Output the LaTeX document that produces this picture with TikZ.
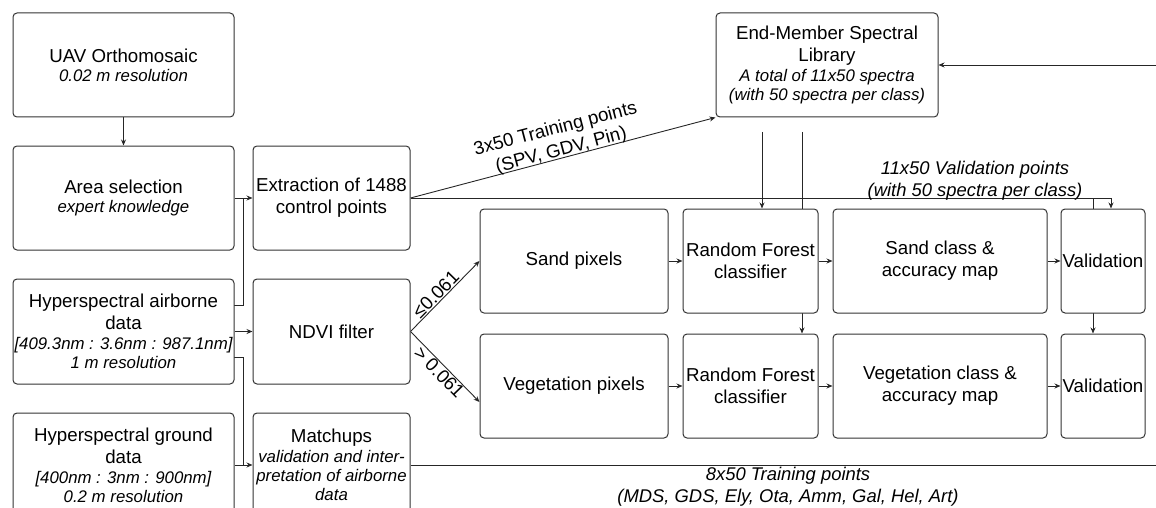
\documentclass[tikz,border=0pt]{standalone}
\usepackage{fontspec}
\setmainfont{Liberation Sans}
\usetikzlibrary{arrows.meta,calc}
\pgfdeclarelayer{bg}
\pgfsetlayers{bg,main}
\newcommand\mainsz{\fontsize{18.7}{22}\selectfont}
\newcommand\itsz{\fontsize{16.8}{20}\selectfont\itshape}
\newcommand\itmain{\fontsize{18.4}{22}\selectfont\itshape}
\begin{document}
\begin{tikzpicture}[x=1pt,y=-1pt,
  box/.style={draw=black!80, fill=white, rounded corners=4pt, line width=1pt, inner sep=0pt, align=center, font=\mainsz},
  arr/.style={-{Stealth[length=6pt,width=5pt]}, line width=0.9pt, draw=black!85},
  ln/.style={line width=0.9pt, draw=black!85},
  lab/.style={align=center, font=\mainsz, inner sep=1pt}]
\useasboundingbox (0,0) rectangle (1156,508);
\clip (0,0) rectangle (1156,508);
% nodes
\node[box, minimum width=221pt, minimum height=104pt] (uav) at (123.5,65) {UAV Orthomosaic\\[-3pt]{\itsz 0.02 m resolution}};
\node[box, minimum width=221pt, minimum height=104pt] (area) at (123.5,198) {Area selection\\[-3pt]{\itsz expert knowledge}};
\node[box, minimum width=157pt, minimum height=104pt] (extr) at (331.5,198) {Extraction of 1488\\control points};
\node[box, minimum width=221pt, minimum height=105pt] (air) at (123.5,331.5) {Hyperspectral airborne\\data\\[-2pt]{\itsz [409.3nm : 3.6nm : 987.1nm]}\\[-3pt]{\itsz 1 m resolution}};
\node[box, minimum width=157pt, minimum height=105pt] (ndvi) at (331.5,331.5) {NDVI filter};
\node[box, minimum width=221pt, minimum height=104pt] (ground) at (123.5,465) {Hyperspectral ground\\data\\[-2pt]{\itsz [400nm : 3nm : 900nm]}\\[-3pt]{\itsz 0.2 m resolution}};
\node[box, minimum width=157pt, minimum height=104pt] (match) at (331.5,465) {Matchups\\[-2pt]{\itsz validation and inter-}\\[-3pt]{\itsz pretation of airborne}\\[-3pt]{\itsz data}};
\node[box, minimum width=222pt, minimum height=104pt] (eml) at (827,65) {End-Member Spectral\\Library\\[-2pt]{\itsz A total of 11x50 spectra}\\[-3pt]{\itsz (with 50 spectra per class)}};
\node[box, minimum width=188pt, minimum height=104pt] (sand) at (574,261) {Sand pixels};
\node[box, minimum width=135pt, minimum height=104pt] (rf1) at (750.5,261) {Random Forest\\classifier};
\node[box, minimum width=214pt, minimum height=104pt] (sandc) at (940,261) {Sand class \&\\accuracy map};
\node[box, minimum width=84pt, minimum height=104pt] (val1) at (1103,261) {Validation};
\node[box, minimum width=188pt, minimum height=104pt] (veg) at (574,386) {Vegetation pixels};
\node[box, minimum width=135pt, minimum height=104pt] (rf2) at (750.5,386) {Random Forest\\classifier};
\node[box, minimum width=214pt, minimum height=104pt] (vegc) at (940,386) {Vegetation class \&\\accuracy map};
\node[box, minimum width=84pt, minimum height=104pt] (val2) at (1103,386) {Validation};
% helper coordinates
\coordinate (a1) at (234,305);
\coordinate (ja) at (243,198);
\coordinate (a2) at (234,357);
\coordinate (jm) at (243,465);
\coordinate (v1) at (1111,198);
\coordinate (v2) at (1093,198);
\coordinate (e1) at (762,132);
\coordinate (e2) at (802,132);
\coordinate (r1) at (1175,465);
\coordinate (r2) at (1175,65);
\node[lab, font=\itmain] (vlab) at (975,181) {11x50 Validation points\\(with 50 spectra per class)};
\node[lab, font=\itmain] (tlab) at (788,487) {8x50 Training points\\(MDS, GDS, Ely, Ota, Amm, Gal, Hel, Art)};
\begin{pgfonlayer}{bg}
\begin{scope}
\clip (0,0) rectangle (1156,508);
\draw[arr] (uav) -- (area);
\draw[arr] (area) -- (extr);
\draw[ln] (a1) -| (ja);
\draw[arr] (air) -- (ndvi);
\draw[ln] (a2) -| (jm);
\draw[arr] (ground) -- (match);
\draw[arr] (extr.east) -- (eml.south west) node[midway, above, sloped, lab, yshift=-3pt] {3x50 Training points\\(SPV, GDV, Pin)};
\draw[arr] (extr.east) -| (val1.north -| v1);
\draw[arr] (extr.east) -| (val2.north -| v2);
\draw[arr] (e1) -- (rf1.north -| e1);
\draw[arr] (e2) -- (rf2.north -| e2);
\draw[arr] (ndvi.east) -- (sand.west) node[pos=0.45, above, sloped, lab] {≤0.061};
\draw[arr] (ndvi.east) -- ($(veg.west)+(0,16)$) node[pos=0.5, below, sloped, lab] {> 0.061};
\draw[arr] (sand) -- (rf1);
\draw[arr] (rf1) -- (sandc);
\draw[arr] (sandc) -- (val1);
\draw[arr] (veg) -- (rf2);
\draw[arr] (rf2) -- (vegc);
\draw[arr] (vegc) -- (val2);
\draw[arr] (match.east) -- (r1) -- (r2) -- (eml.east);
\end{scope}
\end{pgfonlayer}
\end{tikzpicture}
\end{document}
